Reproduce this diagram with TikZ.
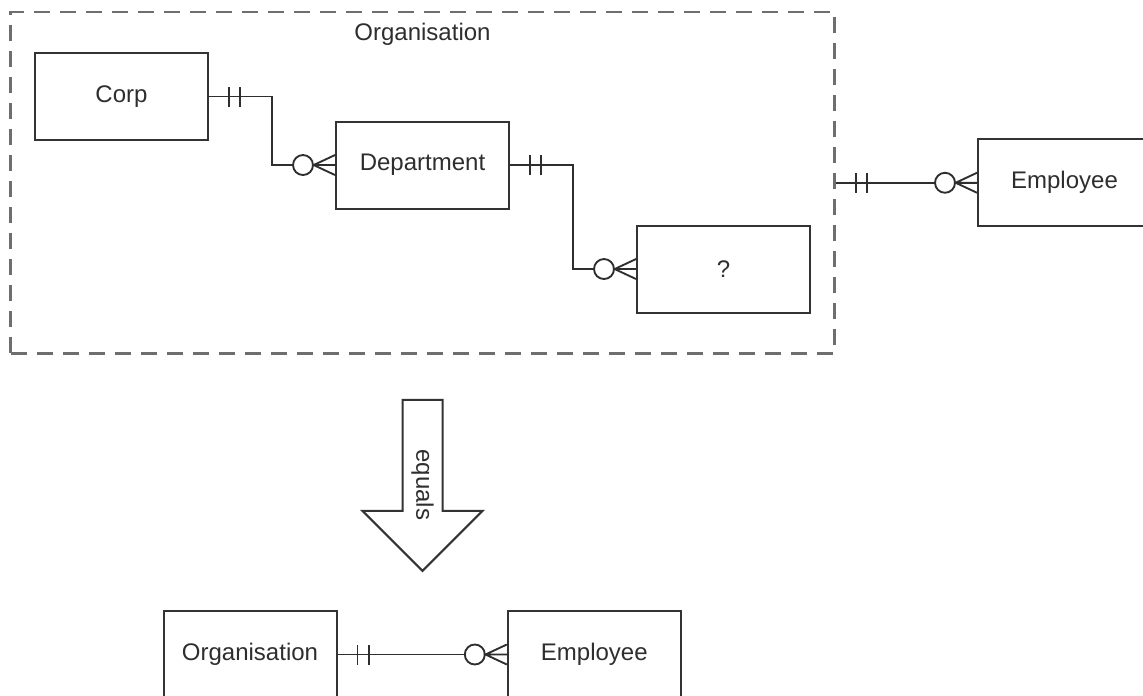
\documentclass[tikz,border=0pt]{standalone}
\usepackage{fontspec}
\setmainfont{Liberation Sans}
\usetikzlibrary{positioning,calc,fit,decorations.markings}
\definecolor{erdark}{HTML}{2E2E2E}
\definecolor{erbox}{HTML}{333333}
\definecolor{ergrey}{HTML}{6E6E6E}
\tikzset{
  entity/.style={draw=erbox,fill=white,line width=1.5pt,minimum width=129.75pt,
                 minimum height=65.25pt,inner sep=2pt,text=erdark,
                 font=\fontsize{18}{21}\selectfont},
  orgbox/.style={draw=ergrey,line width=2pt,dash pattern=on 12pt off 7.5pt,
                 inner xsep=17.5pt,inner ysep=30pt},
  lab/.style={text=erdark,font=\fontsize{18}{21}\selectfont,inner sep=0pt},
  tick/.style={draw=erdark,line width=1.4pt},
  rel/.style={draw=erdark,line width=1.4pt,postaction={decorate},
    decoration={markings,
      mark=at position 15pt with {\draw[tick] (0pt,-7.5pt) -- (0pt,7.5pt);},
      mark=at position 23.5pt with {\draw[tick] (0pt,-7.5pt) -- (0pt,7.5pt);},
      mark=at position -24pt with {\draw[tick,fill=white] (0pt,0pt) circle[radius=7.5pt];},
      mark=at position -16pt with {\draw[tick] (16pt,7.5pt) -- (0pt,0pt) -- (16pt,-7.5pt)
                                     (0pt,0pt) -- (16pt,0pt);}}},
  bigarrow/.style={draw=erbox,fill=white,line width=1.5pt,line join=miter},
}
\begin{document}
\begin{tikzpicture}[x=0.75pt,y=-0.75pt,node distance=94.5pt]
  \useasboundingbox (0,0) rectangle (1143,696);
  \node[entity] (corp) at (121.5,96.5) {Corp};
  \node[entity,right=of corp,yshift=-51.4pt] (dept) {Department};
  \node[entity,right=of dept,yshift=-78pt] (unk) {?};
  \node[orgbox,fit=(corp)(dept)(unk)] (org) {};
  \node[lab,anchor=base] (orgtitle) at ($(org.north)+(0,30)$) {Organisation};
  \node[entity,right=106pt of org] (emp) {Employee};
  \draw[rel] (corp.east) -| ($(corp.east)!.5!(dept.west)$) |- (dept.west);
  \draw[rel] (dept.east) -| ($(dept.east)!.5!(unk.west)$) |- (unk.west);
  \draw[rel] (org.east) -- (emp.west);
  % equals arrow
  \coordinate (eqtop) at ($(org.south)+(0,45)$);
  \draw[bigarrow] ($(eqtop)+(-20,0)$) -- ++(40,0) -- ++(0,111) -- ++(40,0)
    -- ++(-60,60) -- ++(-60,-60) -- ++(40,0) -- cycle;
  \node[lab,rotate=-90] (eqlabel) at ($(eqtop)+(0,85)$) {equals};
  \node[entity] (orgb) at (250,654.5) {Organisation};
  \node[entity,right=127pt of orgb] (empb) {Employee};
  \draw[rel] (orgb.east) -- (empb.west);
\end{tikzpicture}
\end{document}
